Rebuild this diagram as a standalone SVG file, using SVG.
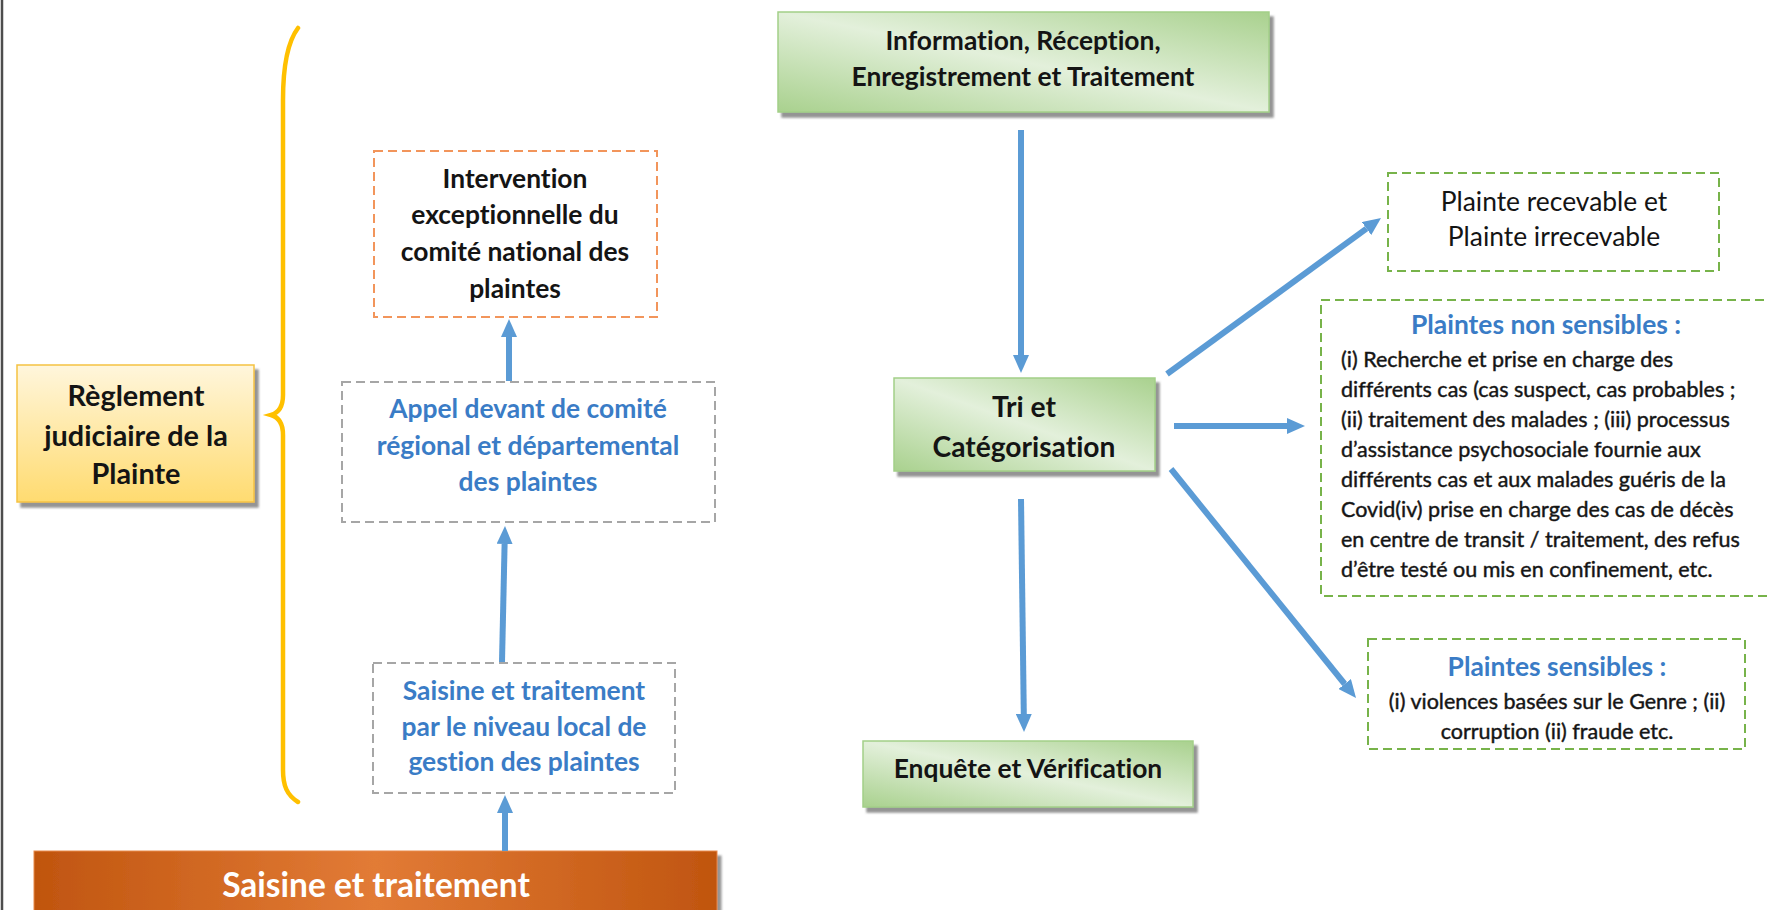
<svg xmlns="http://www.w3.org/2000/svg" width="1769" height="910" viewBox="0 0 1769 910">
<style>
text{font-variant-ligatures:none;font-feature-settings:"liga" 0,"dlig" 0}
.t{font-family:Lato,"Liberation Sans",sans-serif;text-anchor:middle}
.l{font-family:Lato,"Liberation Sans",sans-serif;text-anchor:start}
.b{font-weight:bold}
.dk{fill:#141414}
.bl{fill:#3a7cc6}
.wh{fill:#ffffff}
.f26{font-size:26.4px}
.f28{font-size:28.2px}
.f21{font-size:21.5px;stroke:#1c1c1c;stroke-width:0.45}
.arr{stroke:#5b9bd5;stroke-width:6;fill:none;marker-end:url(#ah)}
.dgrey{fill:#ffffff;stroke:#a6a6a6;stroke-width:2;stroke-dasharray:9 5}
.dor{fill:#ffffff;stroke:#f2955b;stroke-width:2;stroke-dasharray:9 5}
.dgr{fill:#ffffff;stroke:#77b34a;stroke-width:2;stroke-dasharray:9 5}
.green{fill:url(#gg);stroke:#a3cf88;stroke-width:1.5;filter:url(#sh)}
</style>
<defs>
<marker id="ah" markerUnits="userSpaceOnUse" markerWidth="18" markerHeight="16" viewBox="0 0 18 16" refX="0" refY="8" orient="auto">
<path d="M0,0 L18,8 L0,16 z" fill="#5b9bd5"/>
</marker>
<filter id="sh" x="-5%" y="-10%" width="115%" height="130%">
<feDropShadow dx="4" dy="5" stdDeviation="1.2" flood-color="#6f6f6f" flood-opacity="0.75"/>
</filter>
<linearGradient id="gg" x1="0" y1="1" x2="1" y2="0">
<stop offset="0" stop-color="#a9d18e"/>
<stop offset="0.5" stop-color="#e3f0db"/>
<stop offset="1" stop-color="#a9d18e"/>
</linearGradient>
<linearGradient id="yg" x1="0" y1="0" x2="0" y2="1">
<stop offset="0" stop-color="#fff6dc"/>
<stop offset="1" stop-color="#ffdb70"/>
</linearGradient>
<linearGradient id="og" x1="0" y1="0" x2="1" y2="0">
<stop offset="0" stop-color="#c0550f"/>
<stop offset="0.5" stop-color="#e27b36"/>
<stop offset="1" stop-color="#c0550f"/>
</linearGradient>
</defs>

<line x1="2" y1="0" x2="2" y2="910" stroke="#4d4d4d" stroke-width="2.5"/>

<g id="brace">
<path d="M298 28 C286 44 283 70 283 100 L283 395 C283 408 278 413 271 415 C278 417 283 422 283 435 L283 770 C283 786 287 795 298 802" fill="none" stroke="#ffc000" stroke-width="4.5" stroke-linecap="round"/>
</g>

<g id="reglement">
<rect x="17" y="365" width="237" height="137" fill="url(#yg)" stroke="#f5c242" stroke-width="1.5" filter="url(#sh)"/>
<text class="t b dk" style="font-size:28.8px" x="136" y="406">Règlement</text>
<text class="t b dk" style="font-size:28.8px" x="136" y="446">judiciaire de la</text>
<text class="t b dk" style="font-size:28.8px" x="136" y="484">Plainte</text>
</g>

<g id="intervention">
<rect class="dor" x="374" y="151" width="283" height="166"/>
<text class="t b dk f26" x="515" y="188">Intervention</text>
<text class="t b dk f26" x="515" y="224">exceptionnelle du</text>
<text class="t b dk f26" x="515" y="261">comité national des</text>
<text class="t b dk f26" x="515" y="298">plaintes</text>
</g>

<g id="appel">
<rect class="dgrey" x="342" y="382" width="373" height="140"/>
<text class="t b bl f26" x="528" y="418">Appel devant de comité</text>
<text class="t b bl f26" x="528" y="455">régional et départemental</text>
<text class="t b bl f26" x="528" y="491">des plaintes</text>
</g>

<g id="saisine-local">
<rect class="dgrey" x="373" y="663" width="302" height="130"/>
<text class="t b bl f26" x="524" y="700">Saisine et traitement</text>
<text class="t b bl f26" x="524" y="736">par le niveau local de</text>
<text class="t b bl f26" x="524" y="771">gestion des plaintes</text>
</g>

<g id="saisine-bar">
<rect x="34" y="851" width="683" height="75" fill="url(#og)" stroke="#e8894a" stroke-width="1" filter="url(#sh)"/>
<text class="t b wh" style="font-size:33.5px" x="376" y="897">Saisine et traitement</text>
</g>

<g id="info">
<rect class="green" x="778" y="12" width="491" height="100"/>
<text class="t b dk f26" x="1023" y="50">Information, Réception,</text>
<text class="t b dk f26" x="1023" y="86">Enregistrement et Traitement</text>
</g>

<g id="tri">
<rect class="green" x="894" y="378" width="261" height="93"/>
<text class="t b dk f28" x="1024" y="417">Tri et</text>
<text class="t b dk f28" x="1024" y="457">Catégorisation</text>
</g>

<g id="enquete">
<rect class="green" x="863" y="741" width="330" height="66"/>
<text class="t b dk f26" x="1028" y="778">Enquête et Vérification</text>
</g>

<g id="recevable">
<rect class="dgr" x="1388" y="173" width="331" height="98"/>
<text class="t dk f26" x="1554" y="211">Plainte recevable et</text>
<text class="t dk f26" x="1554" y="246">Plainte irrecevable</text>
</g>

<g id="non-sensibles">
<rect class="dgr" x="1321" y="300" width="460" height="296"/>
<text class="t b bl f26" x="1546" y="334">Plaintes non sensibles :</text>
<text class="l dk f21" x="1341" y="367">(i) Recherche et prise en charge des</text>
<text class="l dk f21" x="1341" y="397">différents cas (cas suspect, cas probables ;</text>
<text class="l dk f21" x="1341" y="427">(ii) traitement des malades ; (iii) processus</text>
<text class="l dk f21" x="1341" y="457">d’assistance psychosociale fournie aux</text>
<text class="l dk f21" x="1341" y="487">différents cas et aux malades guéris de la</text>
<text class="l dk f21" x="1341" y="517">Covid(iv) prise en charge des cas de décès</text>
<text class="l dk f21" x="1341" y="547">en centre de transit / traitement, des refus</text>
<text class="l dk f21" x="1341" y="577">d’être testé ou mis en confinement, etc.</text>
</g>

<g id="sensibles">
<rect class="dgr" x="1368" y="639" width="377" height="110"/>
<text class="t b bl f26" x="1557" y="676">Plaintes sensibles :</text>
<text class="t dk f21" x="1557" y="709">(i) violences basées sur le Genre ; (ii)</text>
<text class="t dk f21" x="1557" y="739">corruption (ii) fraude etc.</text>
</g>

<g id="connectors">
<line class="arr" x1="505" y1="851" x2="505" y2="813"/>
<line class="arr" x1="502" y1="662" x2="504.6" y2="544"/>
<line class="arr" x1="509" y1="381" x2="509" y2="337"/>
<line class="arr" x1="1021" y1="130" x2="1021" y2="355"/>
<line class="arr" x1="1021" y1="499" x2="1023.8" y2="714"/>
<line class="arr" x1="1167" y1="374" x2="1366.5" y2="228.6"/>
<line class="arr" x1="1174" y1="426" x2="1287" y2="426"/>
<line class="arr" x1="1171" y1="469" x2="1344.7" y2="684"/>
</g>
</svg>
